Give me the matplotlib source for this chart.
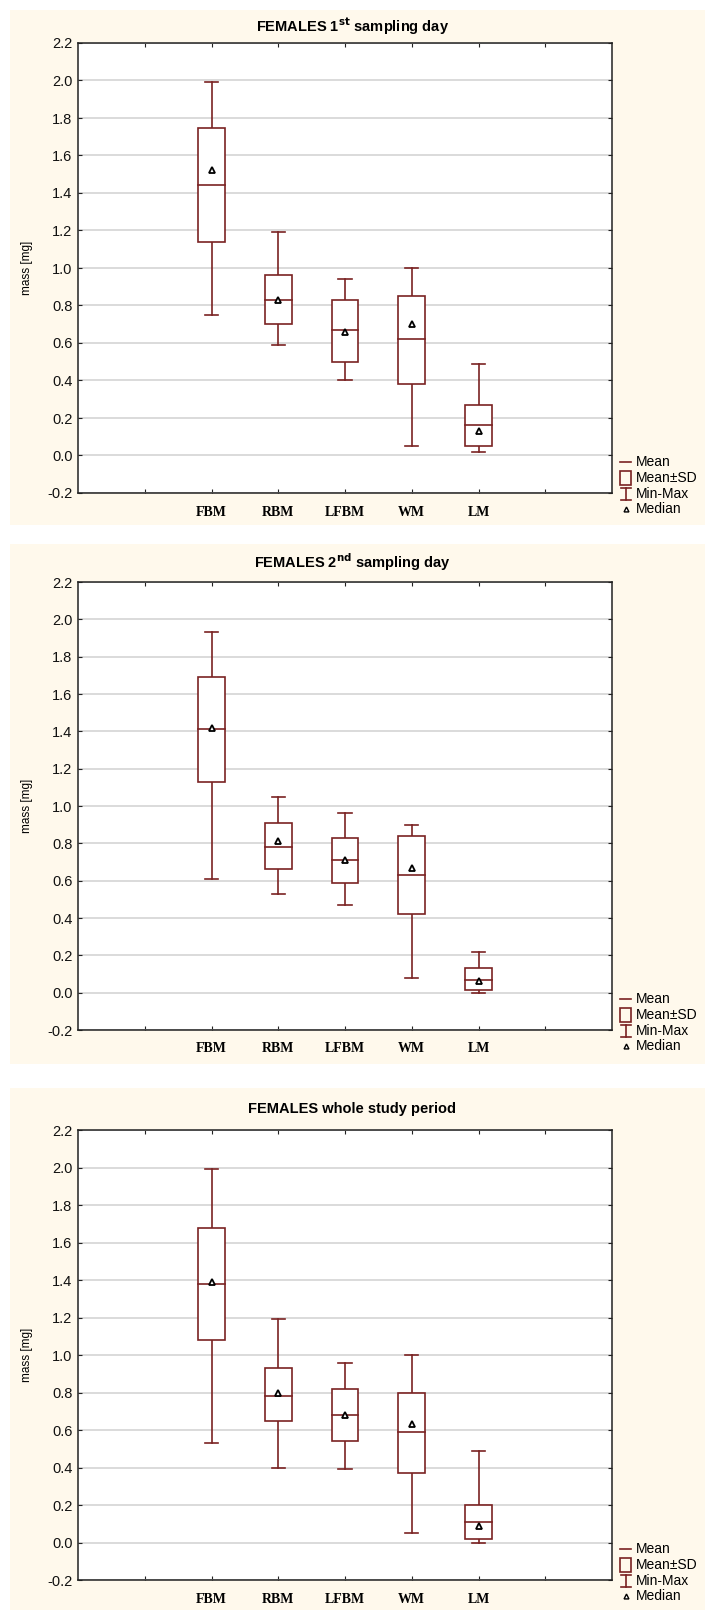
import matplotlib
matplotlib.use('Agg')
import matplotlib.pyplot as plt
from matplotlib.patches import Rectangle
from matplotlib.lines import Line2D

# categorias
grupos = ["FBM", "RBM", "LFBM", "WM", "LM"]

# 1er dia de muestreo
d1_mean = [1.44, 0.83, 0.67, 0.62, 0.16]
d1_sd_hi = [1.745, 0.96, 0.83, 0.85, 0.27]
d1_sd_lo = [1.14, 0.70, 0.50, 0.38, 0.05]
d1_max = [1.99, 1.19, 0.94, 1.00, 0.49]
d1_min = [0.75, 0.59, 0.40, 0.05, 0.02]
d1_med = [1.52, 0.83, 0.66, 0.70, 0.13]

# 2do dia de muestreo
d2_mean = [1.41, 0.78, 0.71, 0.63, 0.07]
d2_sd_hi = [1.69, 0.91, 0.83, 0.84, 0.13]
d2_sd_lo = [1.13, 0.66, 0.59, 0.42, 0.015]
d2_max = [1.93, 1.05, 0.96, 0.90, 0.22]
d2_min = [0.61, 0.53, 0.47, 0.08, 0.00]
d2_med = [1.42, 0.81, 0.71, 0.67, 0.06]

# periodo completo
d3_mean = [1.38, 0.78, 0.68, 0.59, 0.11]
d3_sd_hi = [1.68, 0.93, 0.82, 0.80, 0.20]
d3_sd_lo = [1.08, 0.65, 0.54, 0.37, 0.02]
d3_max = [1.99, 1.19, 0.96, 1.00, 0.49]
d3_min = [0.53, 0.40, 0.39, 0.05, 0.00]
d3_med = [1.39, 0.80, 0.68, 0.63, 0.09]

titulos = [r"FEMALES 1$^{\mathbf{st}}$ sampling day",
           r"FEMALES 2$^{\mathbf{nd}}$ sampling day",
           "FEMALES whole study period"]

W, H = 705, 1610
COLOR = "#7A2222"
CREMA = "#FFF9EC"

fig = plt.figure(figsize=(W / 100, H / 100), dpi=100)
fig.patch.set_facecolor("white")

# (crema_top, crema_bottom, titulo_y, ax_top, ax_bottom) en pixeles
paneles = [
    (10, 525, 26, 43, 493),
    (544, 1064, 562, 582, 1030),
    (1088, 1610, 1109, 1130, 1580),
]
AX_L, AX_R = 78, 612

datos = [
    (d1_mean, d1_sd_hi, d1_sd_lo, d1_max, d1_min, d1_med),
    (d2_mean, d2_sd_hi, d2_sd_lo, d2_max, d2_min, d2_med),
    (d3_mean, d3_sd_hi, d3_sd_lo, d3_max, d3_min, d3_med),
]

narrow = ["Liberation Sans Narrow", "Liberation Sans", "DejaVu Sans"]

for (ct, cb, ty, at, ab), titulo, (mean, hi, lo, mx, mn, med) in zip(paneles, titulos, datos):
    fig.patches.append(Rectangle((10 / W, 1 - cb / H), (W - 10) / W, (cb - ct) / H,
                                 transform=fig.transFigure, facecolor=CREMA,
                                 edgecolor="none", zorder=-5))
    ax = fig.add_axes([AX_L / W, 1 - ab / H, (AX_R - AX_L) / W, (ab - at) / H])
    ax.set_facecolor("white")
    ax.set_xlim(0, 8)
    ax.set_ylim(-0.2, 2.2)
    ax.set_yticks([round(-0.2 + 0.2 * i, 1) for i in range(13)])
    ax.set_yticklabels([f"{-0.2 + 0.2 * i:.1f}" for i in range(13)], family=narrow, fontsize=10.5,
                       color="#111111")
    ax.set_xticks(range(1, 8))
    ax.set_xticklabels(["", *grupos, ""], family="Liberation Serif", fontweight="bold", fontsize=10)
    ax.tick_params(direction="in", length=3, width=0.8, top=True, right=True, pad=9, color="#222222")
    ax.tick_params(axis="y", pad=4)
    ax.grid(axis="y", color="#D8D8D8", lw=1.3)
    ax.set_axisbelow(True)
    for s in ax.spines.values():
        s.set_linewidth(1.1)
        s.set_color("#222222")
    ax.set_ylabel("mass [mg]", family="Liberation Sans", fontsize=8.5, labelpad=10)

    for i, g in enumerate(grupos):
        x = i + 2
        bw, cw = 0.2, 0.1
        ax.plot([x, x], [hi[i], mx[i]], color=COLOR, lw=1.2, zorder=3)
        ax.plot([x, x], [mn[i], lo[i]], color=COLOR, lw=1.2, zorder=3)
        ax.plot([x - cw, x + cw], [mx[i], mx[i]], color=COLOR, lw=1.2, zorder=3)
        ax.plot([x - cw, x + cw], [mn[i], mn[i]], color=COLOR, lw=1.2, zorder=3)
        ax.add_patch(Rectangle((x - bw, lo[i]), 2 * bw, hi[i] - lo[i], facecolor="white",
                               edgecolor=COLOR, lw=1.2, zorder=3))
        ax.plot([x - bw, x + bw], [mean[i], mean[i]], color=COLOR, lw=1.2, zorder=4)
        ax.plot([x], [med[i]], marker="^", ms=5, mfc="white", mec="black", mew=1.3,
                ls="none", zorder=5)

    fig.text(0.5, 1 - ty / H, titulo, ha="center", va="center", fontsize=10.5,
             fontweight="bold", family=narrow)

    # leyenda manual
    tx = 636 / W
    ys = [ab - 31, ab - 15, ab + 1, ab + 16]
    etiquetas = ["Mean", "Mean±SD", "Min-Max", "Median"]
    for yy, et in zip(ys, etiquetas):
        fig.text(tx, 1 - yy / H, et, ha="left", va="center", fontsize=10, family=narrow)
    y0 = 1 - ys[0] / H
    fig.lines.append(Line2D([620 / W, 631 / W], [y0, y0], transform=fig.transFigure, color=COLOR, lw=1.2))
    y1 = 1 - ys[1] / H
    fig.patches.append(Rectangle((620 / W, y1 - 7 / H), 11 / W, 14 / H, transform=fig.transFigure,
                                 facecolor="none", edgecolor=COLOR, lw=1.2))
    y2 = 1 - ys[2] / H
    fig.lines.append(Line2D([626 / W, 626 / W], [y2 - 6 / H, y2 + 6 / H], transform=fig.transFigure, color=COLOR, lw=1.2))
    fig.lines.append(Line2D([621 / W, 631 / W], [y2 + 6 / H, y2 + 6 / H], transform=fig.transFigure, color=COLOR, lw=1.2))
    fig.lines.append(Line2D([621 / W, 631 / W], [y2 - 6 / H, y2 - 6 / H], transform=fig.transFigure, color=COLOR, lw=1.2))
    y3 = 1 - ys[3] / H
    fig.lines.append(Line2D([626 / W], [y3], transform=fig.transFigure, marker="^", ms=3.5,
                            mfc="white", mec="black", mew=1.0, ls="none"))

fig.savefig("out.png", dpi=100)
